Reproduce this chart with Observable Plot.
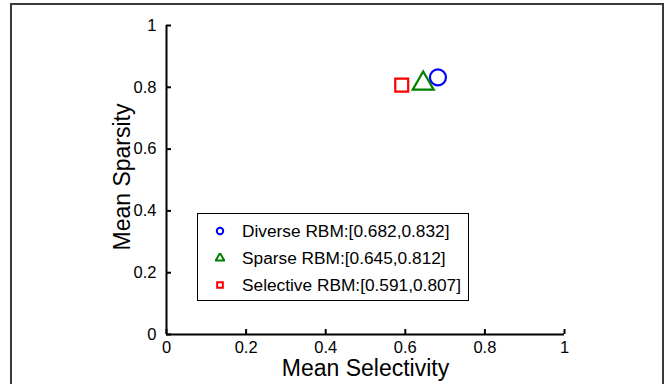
<!DOCTYPE html>
<html>
<head>
<meta charset="utf-8">
<script src="https://cdn.jsdelivr.net/npm/d3@7"></script>
<script src="https://cdn.jsdelivr.net/npm/@observablehq/plot@0.6"></script>
<style>
  html, body { margin: 0; padding: 0; background: #fff; }
  #wrap { position: relative; width: 672px; height: 384px; overflow: hidden; font-family: "Liberation Sans", Arial, sans-serif; }
  #border { position: absolute; left: 10px; top: 3px; width: 654px; height: 420px; border: 2px solid #3a3a3a; box-sizing: border-box; }
  #legend { position: absolute; left: 197px; top: 213px; width: 272px; height: 88px; border: 1px solid #000; background: #fff; box-sizing: border-box; }
  .row { position: absolute; left: 0; height: 20px; display: flex; align-items: center; font-size: 17.3px; color: #000; white-space: nowrap; }
  .row svg { margin-left: 17px; margin-right: 17px; }
  #chart svg { position: absolute; left: 0; top: 0; }
</style>
</head>
<body>
<div id="wrap">
  <div id="chart"></div>
  <div id="border"></div>
  <div id="legend"></div>
</div>
<script>
const names = ["Diverse RBM", "Sparse RBM", "Selective RBM"];
const selectivity = [0.682, 0.645, 0.591];
const sparsity = [0.832, 0.812, 0.807];
const symbols = ["circle", "triangle", "square"];
const colors = ["#0000ff", "#008000", "#ff0000"];
const markerR = [8, 7.8, 7.3];
const xTicks = [0, 0.2, 0.4, 0.6, 0.8, 1];
const yTicks = [0, 0.2, 0.4, 0.6, 0.8, 1];
const tickLabels = ["0", "0.2", "0.4", "0.6", "0.8", "1"];

const data = names.map((n, i) => ({name: n, x: selectivity[i], y: sparsity[i], symbol: symbols[i], color: colors[i], r: markerR[i]}));
const fmt = d => tickLabels[xTicks.indexOf(d)];

const plot = Plot.plot({
  width: 672,
  height: 384,
  marginLeft: 166,
  marginRight: 108,
  marginTop: 25,
  marginBottom: 50,
  style: {fontFamily: "'Liberation Sans', Arial, sans-serif", background: "transparent"},
  x: {domain: [0, 1]},
  y: {domain: [0, 1]},
  marks: [
    Plot.axisX({ticks: xTicks, tickFormat: fmt, tickSize: -5, tickPadding: 12, fontSize: 16.5, label: null, strokeWidth: 2, color: "#000"}),
    Plot.axisY({ticks: yTicks, tickFormat: fmt, tickSize: -5, tickPadding: 15, fontSize: 16.5, label: null, strokeWidth: 2, color: "#000"}),
    Plot.ruleX([0], {stroke: "#000", strokeWidth: 2}),
    Plot.ruleY([0], {stroke: "#000", strokeWidth: 2}),
    Plot.dot(data, {x: "x", y: "y", symbol: "symbol", stroke: "color", r: "r", strokeWidth: 2.2, fill: "none"}),
    Plot.text(["Mean Selectivity"], {frameAnchor: "bottom", dy: 41, fontSize: 23, fill: "#000"}),
    Plot.text(["Mean Sparsity"], {frameAnchor: "left", textAnchor: "middle", dx: -44, dy: -3, rotate: -90, fontSize: 23, fill: "#000"})
  ],
  symbol: {type: "identity"},
  color: {type: "identity"},
  r: {type: "identity"}
});
document.getElementById("chart").appendChild(plot);

const legend = document.getElementById("legend");
const tops = [7, 34, 61];
data.forEach((d, i) => {
  const row = document.createElement("div");
  row.className = "row";
  row.style.top = tops[i] + "px";
  const sym = d3.symbol(d3["symbol" + d.symbol[0].toUpperCase() + d.symbol.slice(1)], Math.PI * 3.2 * 3.2)();
  row.innerHTML = `<svg width="10" height="10" viewBox="-5 -5 10 10"><path d="${sym}" fill="none" stroke="${d.color}" stroke-width="2"/></svg><span>${d.name}:[${d.x.toFixed(3)},${d.y.toFixed(3)}]</span>`;
  legend.appendChild(row);
});
</script>
</body>
</html>
